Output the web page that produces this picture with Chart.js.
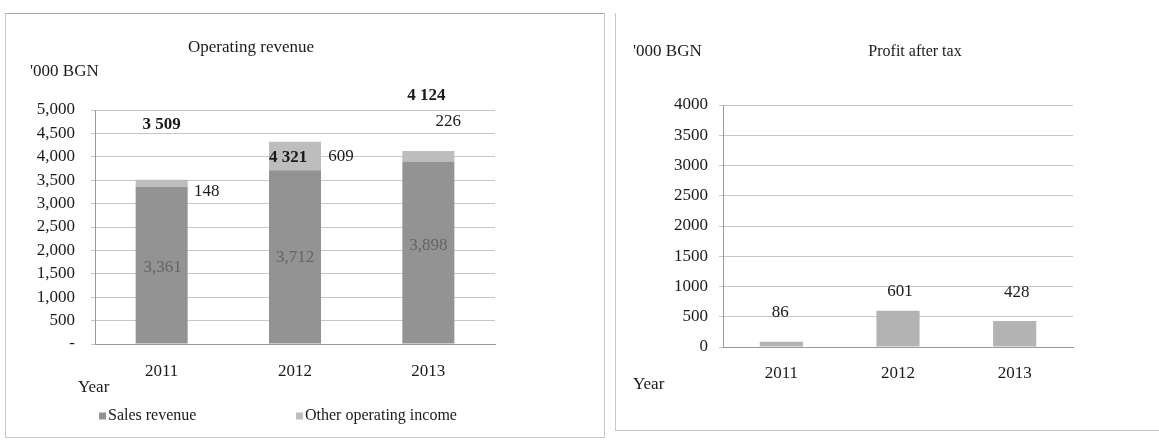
<!DOCTYPE html>
<html>
<head>
<meta charset="utf-8">
<script src="https://cdn.jsdelivr.net/npm/chart.js@4.4.1/dist/chart.umd.min.js"></script>
<style>
  html, body { margin: 0; padding: 0; background: #fff; }
  body { width: 1159px; height: 440px; position: relative; overflow: hidden; }
  canvas { position: absolute; top: 0; }
  .frame { position: absolute; box-sizing: border-box; }
</style>
</head>
<body>
<div class="frame" style="left:5px;top:13px;width:600px;height:425px;border:1px solid #c8c8c8;border-top-color:#a8a8a8"></div>
<div class="frame" style="left:615px;top:13px;width:544px;height:418px;border-left:1px solid #c8c8c8;border-bottom:1px solid #c8c8c8"></div>
<canvas id="rev" width="610" height="440" style="left:0"></canvas>
<canvas id="profit" width="549" height="440" style="left:610px"></canvas>
<script>
// Figures in thousand BGN
const years = ['2011', '2012', '2013'];
const salesRevenue = [3361, 3712, 3898];
const otherIncome = [148, 609, 226];
const profitAfterTax = [86, 601, 428];

const SERIF = "'Liberation Serif', 'Times New Roman', serif";
const INK = '#1a1a1a';
const GRID = '#c6c6c6';
const AXIS = '#9a9a9a';

// Draws titles, unit captions, a flat legend and value labels placed beside the bars
const notes = {
  id: 'notes',
  afterDraw(chart, args, o) {
    const ctx = chart.ctx;
    ctx.save();
    ctx.textBaseline = 'middle';
    (o.texts || []).forEach(t => {
      ctx.font = t.font;
      ctx.fillStyle = t.color || INK;
      ctx.textAlign = t.align || 'left';
      ctx.fillText(t.text, t.x, t.y);
    });
    if (o.legend) {
      const L = o.legend;
      chart.data.datasets.forEach((ds, i) => {
        const x = L.x[i];
        ctx.fillStyle = ds.backgroundColor;
        ctx.fillRect(x, L.y - 3.5, 7, 7);
        ctx.font = L.font;
        ctx.fillStyle = INK;
        ctx.textAlign = 'left';
        ctx.fillText(ds.label, x + 9, L.y);
      });
    }
    (o.labels || []).forEach(L => {
      const meta = chart.getDatasetMeta(L.dataset);
      meta.data.forEach((el, i) => {
        const y0 = L.anchor === 'top' ? el.y : (el.y + el.base) / 2;
        const off = L.offsets[i];
        ctx.font = L.font;
        ctx.fillStyle = L.color || INK;
        ctx.textAlign = 'center';
        ctx.fillText(L.format(L.value(i)), el.x + off[0], y0 + off[1]);
      });
    });
    ctx.restore();
  }
};

const spaced = v => v.toLocaleString('en-US').replace(/,/g, ' ');
const comma = v => v.toLocaleString('en-US');

function yScale(max, width, pad, fmt) {
  return {
    min: 0, max: max,
    ticks: { stepSize: 500, padding: pad, color: INK, font: { family: SERIF, size: 17 }, callback: fmt },
    grid: { color: GRID, tickLength: 4, drawTicks: true },
    border: { display: true, color: AXIS },
    afterFit(s) { s.width = width; }
  };
}
function xScale(pad, stacked) {
  return {
    stacked: stacked,
    ticks: { padding: pad, color: INK, font: { family: SERIF, size: 17 } },
    grid: { display: false },
    border: { display: true, color: AXIS },
    afterFit(s) { s.height = 40; }
  };
}

new Chart(document.getElementById('rev'), {
  type: 'bar',
  data: {
    labels: years,
    datasets: [
      { label: 'Sales revenue', data: salesRevenue, backgroundColor: '#939393',
        categoryPercentage: 1, barPercentage: 0.39 },
      { label: 'Other operating income', data: otherIncome, backgroundColor: '#bdbdbd',
        categoryPercentage: 1, barPercentage: 0.39 }
    ]
  },
  options: {
    responsive: false, animation: false, devicePixelRatio: 1,
    layout: { padding: { left: 0, top: 110, right: 115, bottom: 56 } },
    scales: {
      x: xScale(9, true),
      y: Object.assign(yScale(5000, 95, 16, v => v === 0 ? '-' : comma(v)), { stacked: true })
    },
    plugins: {
      legend: { display: false },
      tooltip: { enabled: false },
      notes: {
        texts: [
          { text: 'Operating revenue', x: 251, y: 48, align: 'center', font: `17px ${SERIF}` },
          { text: "'000 BGN", x: 30, y: 72, font: `17px ${SERIF}` },
          { text: 'Year', x: 78, y: 388, font: `17px ${SERIF}` }
        ],
        legend: { x: [99, 296], y: 416, font: `16px ${SERIF}` },
        labels: [
          { dataset: 0, anchor: 'center', value: i => salesRevenue[i], format: comma,
            font: `17px ${SERIF}`, color: '#646464', offsets: [[1, 2], [0, 1], [0, -7]] },
          { dataset: 1, anchor: 'center', value: i => otherIncome[i], format: comma,
            font: `17px ${SERIF}`, offsets: [[45, 8], [46, 1], [20, -35]] },
          { dataset: 1, anchor: 'top', value: i => salesRevenue[i] + otherIncome[i], format: spaced,
            font: `bold 17px ${SERIF}`, offsets: [[0, -55], [-7, 16], [-2, -55]] }
        ]
      }
    }
  },
  plugins: [notes]
});

new Chart(document.getElementById('profit'), {
  type: 'bar',
  data: {
    labels: years,
    datasets: [
      { label: 'Profit after tax', data: profitAfterTax, backgroundColor: '#b3b3b3',
        categoryPercentage: 1, barPercentage: 0.37 }
    ]
  },
  options: {
    responsive: false, animation: false, devicePixelRatio: 1,
    layout: { padding: { left: 0, top: 105, right: 86, bottom: 53 } },
    scales: {
      x: xScale(8, false),
      y: yScale(4000, 113, 11, v => String(v))
    },
    plugins: {
      legend: { display: false },
      tooltip: { enabled: false },
      notes: {
        texts: [
          { text: 'Profit after tax', x: 305, y: 52, align: 'center', font: `16px ${SERIF}` },
          { text: "'000 BGN", x: 23, y: 52, font: `17px ${SERIF}` },
          { text: 'Year', x: 23, y: 385, font: `17px ${SERIF}` }
        ],
        labels: [
          { dataset: 0, anchor: 'top', value: i => profitAfterTax[i], format: comma,
            font: `17px ${SERIF}`, offsets: [[-1, -29], [2, -19], [2, -29]] }
        ]
      }
    }
  },
  plugins: [notes]
});
</script>
</body>
</html>
